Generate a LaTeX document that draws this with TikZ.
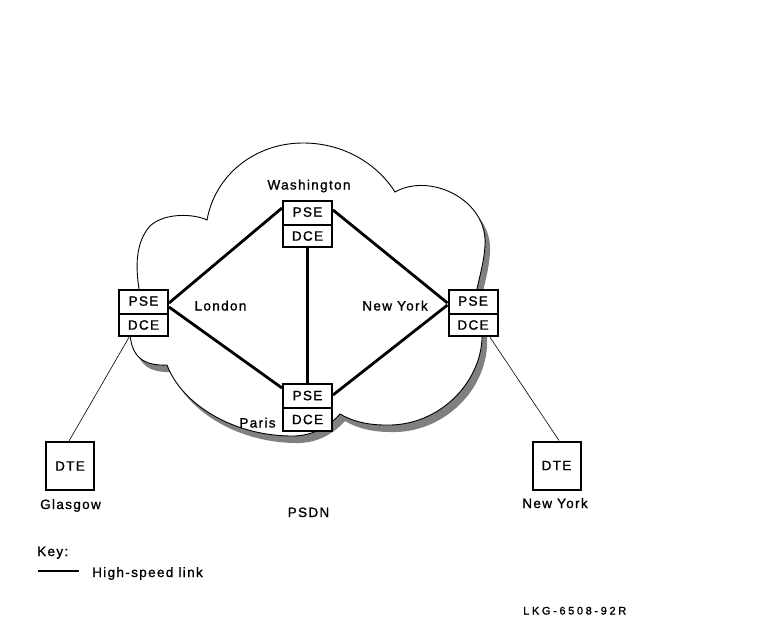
\documentclass[tikz,border=0pt]{standalone}
\usepackage{fontspec}
\setmainfont{Liberation Sans}[LetterSpace=10,FakeBold=1.2]
\newfontfamily\lkgfont{Liberation Sans}[LetterSpace=24,FakeBold=1.2]
\usetikzlibrary{shapes.multipart}
\definecolor{shadowgray}{HTML}{808080}
\def\cloudpath{(141,300) .. controls (136,275) and (133,245) .. (150,226)
  .. controls (165,212) and (195,214) .. (207,220)
  .. controls (215,175) and (255,143) .. (303,143)
  .. controls (345,143) and (378,165) .. (395,192)
  .. controls (430,172) and (488,200) .. (485,245)
  .. controls (484,265) and (478,280) .. (475,300)
  -- (482,330)
  .. controls (485,380) and (440,427) .. (385,425)
  .. controls (365,425) and (350,420) .. (340,414)
  .. controls (333,422) and (318,435) .. (295,436)
  .. controls (235,437) and (182,405) .. (167,365)
  .. controls (145,366) and (130,358) .. (130,330) -- cycle}
\begin{document}
\begin{tikzpicture}[x=1pt,y=-1pt,
  lbl/.style={font=\fontsize{13.5}{15}\selectfont, inner sep=0pt, anchor=base},
  sw/.style={rectangle split, rectangle split parts=2, draw, line width=2pt,
    fill=white, minimum width=49pt, inner xsep=0pt, inner ysep=5.5pt,
    text height=9.5pt, text depth=1.5pt, font=\fontsize{13.5}{15}\selectfont},
  dte/.style={draw, line width=2pt, fill=white, minimum width=48pt,
    minimum height=48pt, inner sep=0pt, font=\fontsize{13.5}{15}\selectfont},
  hs/.style={line width=2.8pt},
  thinlink/.style={line width=0.6pt},
  cloudline/.style={line width=0.9pt}]
\useasboundingbox (0,0) rectangle (757,623);
\fill[white] (0,0) rectangle (757,623);
% cloud with shadow
\begin{scope}[shift={(5,7)}]
  \fill[shadowgray] \cloudpath;
\end{scope}
\filldraw[fill=white, cloudline] \cloudpath;
% switches
\node[sw] (L) at (143.5,313) {PSE\nodepart{two}DCE};
\node[sw] (W) at (307.5,224) {PSE\nodepart{two}DCE};
\node[sw] (N) at (473,313) {PSE\nodepart{two}DCE};
\node[sw] (P) at (307.5,407.5) {PSE\nodepart{two}DCE};
% DTEs
\node[dte] (G) at (70,466) {DTE};
\node[dte] (D) at (556.5,465.5) {DTE};
% high-speed links
\draw[hs] ([yshift=10pt]L.east) -- ([yshift=16pt]W.west);
\draw[hs] ([yshift=14pt]W.east) -- ([yshift=10pt]N.west);
\draw[hs] ([yshift=6pt]L.east) -- ([yshift=19.5pt]P.west);
\draw[hs] ([yshift=12.5pt]P.east) -- ([yshift=8pt]N.west);
\draw[hs] (W.south) -- (P.north);
% access links
\draw[thinlink] ([xshift=-14.5pt]L.south) -- ([xshift=-1pt]G.north);
\draw[thinlink] ([xshift=17pt]N.south) -- ([xshift=2.5pt]D.north);
% labels
\node[lbl] (tw) at (309,189.5) {Washington};
\node[lbl] (tl) at (220.5,310.5) {London};
\node[lbl] (tn) at (395,310.5) {New York};
\node[lbl] (tp) at (257.5,427.5) {Paris};
\node[lbl] (tg) at (70.5,509) {Glasgow};
\node[lbl] (td) at (555,508) {New York};
\node[lbl] (ts) at (308.5,517) {PSDN};
\node[lbl, anchor=base west] (tk) at (37,556) {Key:};
\coordinate (k1) at (38,571);
\coordinate (k2) at (79,571);
\draw[hs] (k1) -- (k2);
\node[lbl, anchor=base west] (th) at (92,577) {High-speed link};
\node[inner sep=0pt, anchor=base west, font=\lkgfont\fontsize{11}{12}\selectfont] (tc) at (523,614.5) {LKG-6508-92R};
\end{tikzpicture}
\end{document}
